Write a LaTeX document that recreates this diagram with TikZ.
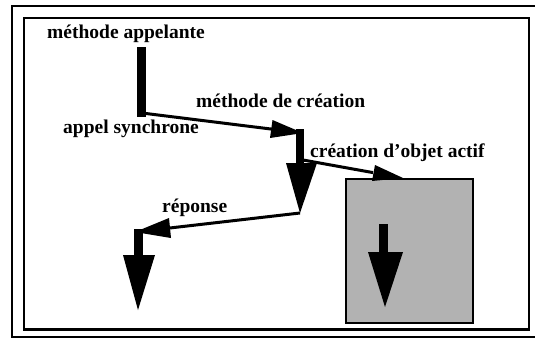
\documentclass[tikz,border=0pt]{standalone}
\usepackage{fontspec}
\setmainfont{Liberation Serif}
\usetikzlibrary{calc}
\begin{document}
\begin{tikzpicture}[x=1pt,y=-1pt,
  lbl/.style={font=\bfseries\fontsize{19.5}{21}\selectfont, inner sep=0pt, anchor=base west},
  conn/.style={line width=3pt},
  outerframe/.style={line width=2.8pt},
  innerframe/.style={line width=2.2pt},
  blk/.style={fill=black},
  objbox/.style={draw=black, line width=2.2pt, fill=black!30}]
\useasboundingbox (0,0) rectangle (535,341);
% frames
\draw[outerframe] (12,6) rectangle (548,337);
\draw[innerframe] (24,18) rectangle (529,329.5);
% labels
\node[lbl] (appelante) at (47,38) {méthode appelante};
\node[lbl] (synchrone) at (63,133) {appel synchrone};
\node[lbl] (creation) at (196,107) {méthode de création};
\node[lbl] (objet) at (310,157) {création d'objet actif};
\node[lbl] (reponse) at (162,212) {réponse};
% key points
\coordinate (c1) at (142,113);
\coordinate (t1) at (303,133);
\coordinate (c2) at (303,160);
\coordinate (t2) at (403,178);
\coordinate (c3) at (300,213);
\coordinate (t3) at (135,232);
% calling method bar
\fill[blk] (137,47) rectangle (146,117);
% creation call
\draw[conn] (c1) -- ($(c1)!0.82!(t1)$);
\fill[blk] (t1) -- (270,138) -- (272.5,120) -- cycle;
\fill[blk] (296,129) rectangle (304,165);
\fill[blk] (286,163) -- (317,163) -- (c3) -- cycle;
% active object box
\node[objbox, minimum width=127pt, minimum height=144pt, anchor=north west, inner sep=0pt] (box) at (345,178) {};
\fill[blk] (379,224) rectangle (388,254);
\fill[blk] (368,252) -- (403,252) -- (385,307) -- cycle;
% creation of active object
\draw[conn] (c2) -- ($(c2)!0.7!(t2)$);
\fill[blk] (t2) -- (372,181) -- (375,165) -- cycle;
% response
\draw[conn] (c3) -- ($(c3)!0.8!(t3)$);
\fill[blk] (t3) -- (169,218) -- (171,238) -- cycle;
\fill[blk] (134,229) rectangle (143,257);
\fill[blk] (123,255) -- (155,255) -- (138,310) -- cycle;
\end{tikzpicture}
\end{document}
